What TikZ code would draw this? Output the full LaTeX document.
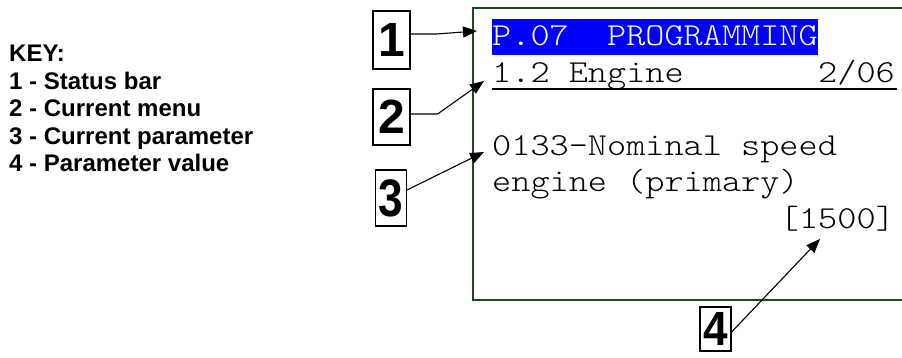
\documentclass[tikz,border=0pt]{standalone}
\usepackage{fontspec}
\setmainfont{Liberation Sans}
\newfontfamily\lcdface[FakeStretch=1.14]{Latin Modern Mono Light}
\usepackage{graphicx}
\usetikzlibrary{arrows.meta}
\definecolor{frame}{rgb}{0.10,0.30,0.10}
\definecolor{bar}{rgb}{0.0,0.0,1.0}
\newcommand{\Lcd}{\lcdface\fontsize{32}{36}\selectfont}
\newcommand{\Num}{\bfseries\fontsize{48}{48}\selectfont}
\newcommand{\Tall}[1]{\scalebox{0.92}[1.1]{#1}}

\begin{document}
\begin{tikzpicture}[x=1pt,y=-1pt,
  lcd/.style={font=\Lcd,inner sep=0pt,anchor=base west},
  numbox/.style={draw,line width=1.2pt,font=\Num,inner sep=0pt,
                 minimum width=37pt,minimum height=58pt},
  slim/.style={numbox,minimum width=31pt,minimum height=56pt},
  ar/.style={-{Triangle[length=14pt,width=11pt]},line width=1.1pt}]
\useasboundingbox (0,0) rectangle (902,358);

% key
\node[anchor=north west,inner sep=0pt,align=left,
      font=\bfseries\fontsize{24}{27.5}\selectfont] (key) at (9,45)
  {KEY:\\1 - Status bar\\2 - Current menu\\3 - Current parameter\\4 - Parameter value};

% display
\draw[frame,line width=1.4pt] (910,8) -- (473,8) -- (473,300) -- (910,300);
\node[lcd,fill=bar,text=white,text height=27pt,text depth=9pt] (status)
  at (492,46) {P.07~~PROGRAMMING};
\node[lcd] (menu) at (492,82.5) {1.2 Engine};
\node[lcd,anchor=base east] (page) at (895,82.5) {2/06};
\draw[line width=1.6pt] (492,89) -- (897,89);
\node[lcd] (param) at (492,155.5) {0133-Nominal speed};
\node[lcd] (param2) at (492,192) {engine (primary)};
\node[lcd,anchor=base east] (value) at (895,228.5) {[1500]};

% callouts
\node[numbox] (n1) at (391.5,40) {1};
\node[numbox,minimum height=56pt] (n2) at (391.5,117) {2};
\node[slim] (n3) at (391,198) {\Tall{3}};
\node[slim,minimum height=44pt] (n4) at (715.5,329) {\scalebox{0.92}[1]{4}};

\coordinate (t1) at (477,31);
\coordinate (t2) at (484,81);
\coordinate (t3) at (484,152);
\coordinate (t4) at (820,239);

\draw[ar] ([yshift=6pt]n1.east) -- ++(26,0) -- (t1);
\draw[ar] ([yshift=3pt]n2.east) -- ++(27,0) -- (t2);
\draw[ar] ([yshift=8pt]n3.east) -- (t3);
\draw[ar] ([yshift=-3pt]n4.east) -- (t4);
\end{tikzpicture}
\end{document}
